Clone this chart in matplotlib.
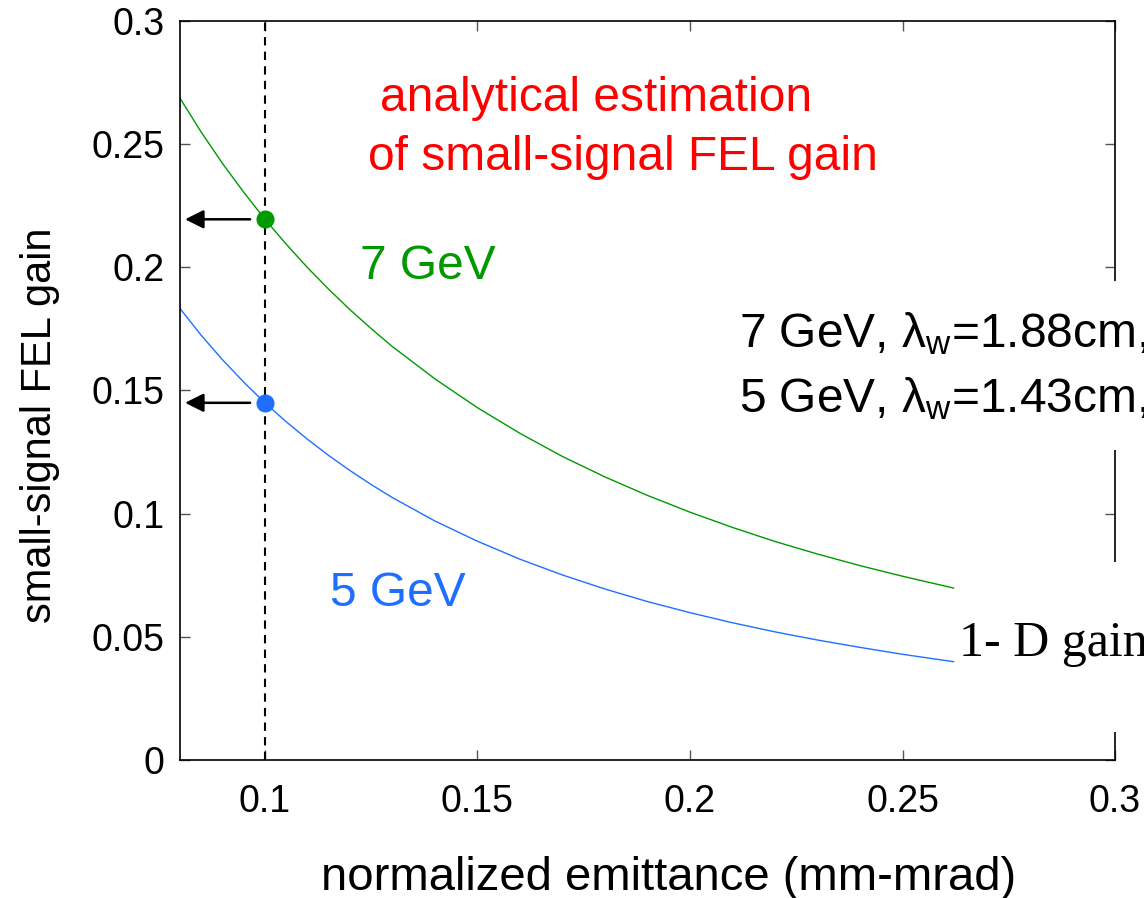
import numpy as np
import matplotlib
matplotlib.use('Agg')
import matplotlib.pyplot as plt
from matplotlib.patches import Rectangle

plt.rcParams['font.family'] = ['Liberation Sans', 'DejaVu Sans']
plt.rcParams['mathtext.fontset'] = 'custom'
plt.rcParams['mathtext.rm'] = 'Liberation Sans'

# gain curves
emit = [0.08, 0.085, 0.09, 0.095, 0.10, 0.105, 0.11, 0.115, 0.12, 0.125,
        0.13, 0.14, 0.15, 0.16, 0.17, 0.18, 0.19, 0.20, 0.21, 0.22, 0.23,
        0.24, 0.25, 0.26, 0.262]
gain_7gev = [0.2687, 0.2549, 0.2422, 0.2305, 0.2195, 0.2094, 0.1999, 0.1911,
             0.1828, 0.1751, 0.1678, 0.1547, 0.1430, 0.1326, 0.1232, 0.1149,
             0.1074, 0.1006, 0.0944, 0.0887, 0.0836, 0.0789, 0.0746, 0.0706,
             0.0698]
gain_5gev = [0.1833, 0.1724, 0.1625, 0.1534, 0.1450, 0.1373, 0.1302, 0.1236,
             0.1175, 0.1118, 0.1065, 0.0970, 0.0888, 0.0815, 0.0751, 0.0694,
             0.0643, 0.0598, 0.0557, 0.0520, 0.0487, 0.0457, 0.0429, 0.0404,
             0.0399]

# operating point
emit_op = 0.1
gain_op = [0.2195, 0.145]

green = '#009900'
blue = '#1f6fff'

fig = plt.figure(figsize=(11.44, 8.98), dpi=100)
ax = fig.add_axes([0.1573, 0.1537, 0.8174, 0.8229])

ax.plot(emit, gain_7gev, color=green, lw=1.0)
ax.plot(emit, gain_5gev, color=blue, lw=1.0)
ax.axvline(emit_op, color='black', ls=(0, (4, 3)), lw=1.5)

for g, c in zip(gain_op, [green, blue]):
    ax.plot(emit_op, g, 'o', color=c, ms=12, zorder=5)
    ax.annotate('', xy=(0.0812, g), xytext=(0.0965, g),
                arrowprops=dict(arrowstyle='-|>', color='black', lw=1.8,
                                mutation_scale=28, shrinkA=0, shrinkB=0))

ax.set_xlim(0.08, 0.3)
ax.set_ylim(0, 0.3)
ax.set_xticks([0.1, 0.15, 0.2, 0.25, 0.3])
ax.set_xticklabels(['0.1', '0.15', '0.2', '0.25', '0.3'])
ax.set_yticks([0, 0.05, 0.1, 0.15, 0.2, 0.25, 0.3])
ax.set_yticklabels(['0', '0.05', '0.1', '0.15', '0.2', '0.25', '0.3'])
ax.tick_params(direction='in', length=7, width=1, top=True, right=True,
               labelsize=27, color='#555555')
ax.tick_params(axis='x', pad=17)
ax.tick_params(axis='y', pad=11)
for s in ax.spines.values():
    s.set_linewidth(1.2)

ax.set_xlabel('normalized emittance (mm-mrad)', fontsize=34)
ax.set_ylabel('small-signal FEL gain', fontsize=30)
ax.xaxis.set_label_coords(0.523, -0.130)
ax.yaxis.set_label_coords(-0.128, 0.453)

ax.text(0.127, 0.2685, 'analytical estimation', color='red', fontsize=34.5,
        va='center')
ax.text(0.1243, 0.2445, 'of small-signal FEL gain', color='red',
        fontsize=34.5, va='center')
ax.text(0.1224, 0.2005, '7 GeV', color=green, fontsize=34.5, va='center')
ax.text(0.1153, 0.0677, '5 GeV', color=blue, fontsize=34.5, va='center')

# white gaps in the right frame behind the side labels
for y0, y1 in [(0.126, 0.1945), (0.0114, 0.0805)]:
    ax.add_patch(Rectangle((0.2965, y0), 0.007, y1 - y0, facecolor='white',
                           edgecolor='none', clip_on=False, zorder=4))

ax.text(0.2115, 0.173, '7 GeV, λ$_{\\mathrm{w}}$=1.88cm,', fontsize=34.5,
        va='center', clip_on=False, zorder=6)
ax.text(0.2115, 0.1465, '5 GeV, λ$_{\\mathrm{w}}$=1.43cm,', fontsize=34.5,
        va='center', clip_on=False, zorder=6)
ax.text(0.2632, 0.047, '1- D gain', fontsize=36, family='Liberation Serif',
        va='center', clip_on=False, zorder=6)

fig.savefig('out.png', dpi=100)
